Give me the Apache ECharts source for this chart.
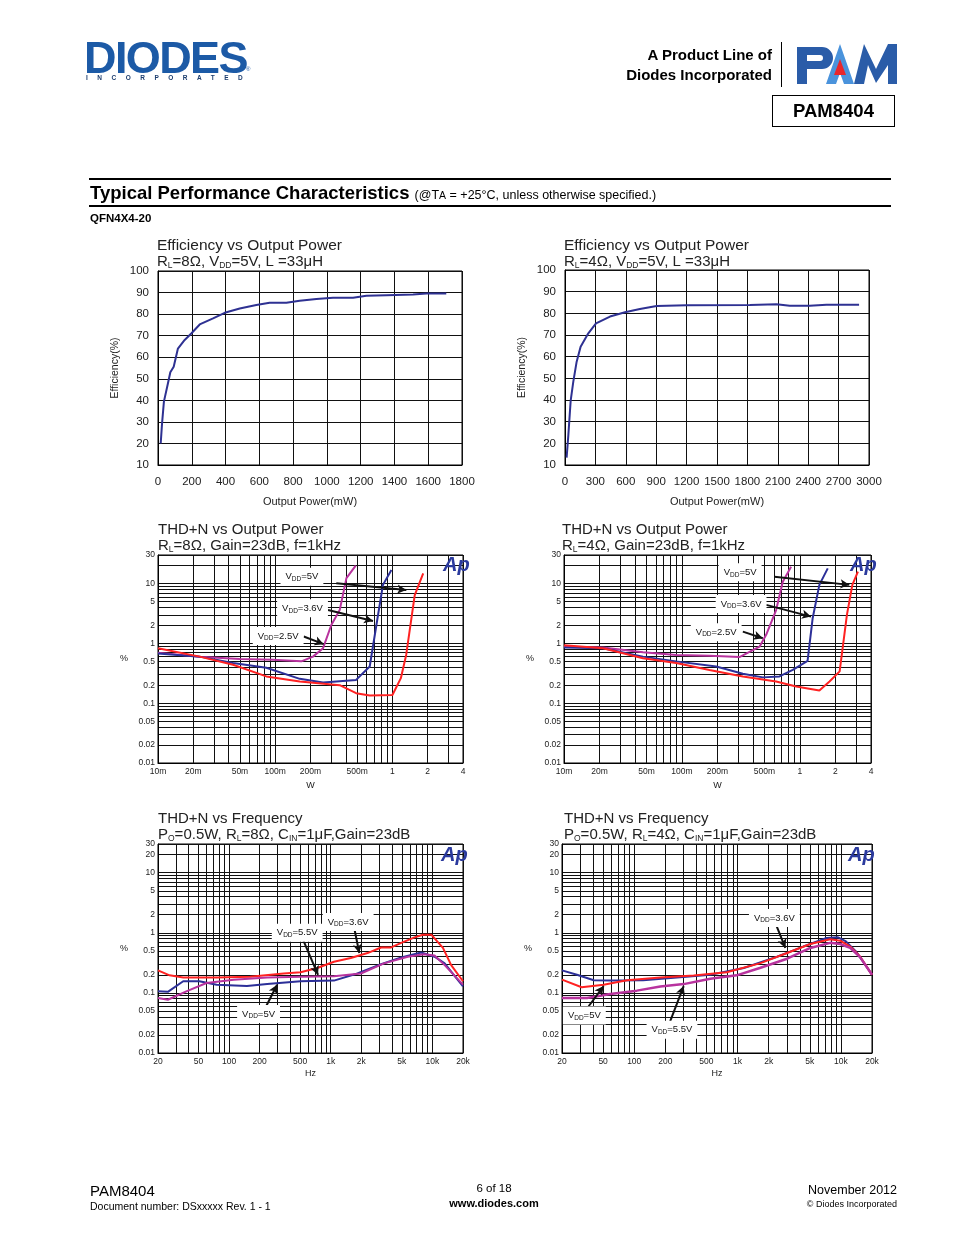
<!DOCTYPE html>
<html>
<head>
<meta charset="utf-8">
<script src="https://cdn.jsdelivr.net/npm/echarts@6/dist/echarts.min.js"></script>
<style>
  body { margin: 0; background: #fff; font-family: "Liberation Sans", Arial, sans-serif; color: #000; }
  #page { position: relative; width: 954px; height: 1235px; overflow: hidden; }
  #chart { position: absolute; left: 0; top: 0; width: 954px; height: 1235px; z-index: 0; }
  .abs { position: absolute; white-space: nowrap; z-index: 1; line-height: 1; }
</style>
</head>
<body>
<div id="page">
  <!-- header -->
  <div class="abs" style="left:84px;top:35px;font-size:45px;font-weight:bold;color:#1c5aa6;letter-spacing:-1.6px;">DIODES</div>
  <div class="abs" style="left:246px;top:66px;font-size:6px;color:#1c5aa6;">®</div>
  <div class="abs" style="left:86px;top:75px;font-size:6.5px;font-weight:bold;color:#1c3d6e;letter-spacing:9.5px;">INCORPORATED</div>
  <div class="abs" style="right:182px;top:47px;font-size:15px;font-weight:bold;">A Product Line of</div>
  <div class="abs" style="right:182px;top:67px;font-size:15px;font-weight:bold;">Diodes Incorporated</div>
  <div class="abs" style="left:781px;top:42px;width:1px;height:45px;background:#000;"></div>
  <svg class="abs" style="left:796px;top:43px;" width="102" height="42" viewBox="0 0 102 42">
    <path fill="#2a5ca8" fill-rule="evenodd" d="M1 4 H26 A11 11 0 0 1 26 26 H11 V41 H1 Z M11 12 H24 A3 3 0 0 1 24 18 H11 Z"/>
    <polygon fill="#4a93dc" points="30,41 44,1 58,41 48,41 44,30 40,41"/>
    <polygon fill="#e8262c" points="38,32 44,16 50,32"/>
    <polygon fill="#2a5ca8" points="58,41 68,1 80,26 92,1 101,1 101,41 92,41 92,22 80,40 72,22 68,41"/>
  </svg>
  <div class="abs" style="left:772px;top:95px;width:121px;height:30px;border:1.5px solid #000;font-size:18.5px;font-weight:bold;text-align:center;line-height:30px;">PAM8404</div>

  <div class="abs" style="left:89px;top:178px;width:802px;height:2px;background:#000;"></div>
  <div class="abs" style="left:90px;top:184px;font-size:18.5px;font-weight:bold;">Typical Performance Characteristics <span style="font-size:12.5px;font-weight:normal;">(@T<span style="font-size:10.5px;">A</span> = +25°C, unless otherwise specified.)</span></div>
  <div class="abs" style="left:89px;top:205px;width:802px;height:2px;background:#000;"></div>
  <div class="abs" style="left:90px;top:213px;font-size:11.5px;font-weight:bold;">QFN4X4-20</div>

  <!-- footer -->
  <div class="abs" style="left:90px;top:1183px;font-size:15px;">PAM8404</div>
  <div class="abs" style="left:90px;top:1201px;font-size:10.5px;">Document number: DSxxxxx Rev. 1 - 1</div>
  <div class="abs" style="left:394px;width:200px;text-align:center;top:1183px;font-size:11.5px;">6 of 18</div>
  <div class="abs" style="left:394px;width:200px;text-align:center;top:1198px;font-size:11px;font-weight:bold;">www.diodes.com</div>
  <div class="abs" style="right:57px;top:1184px;font-size:12.5px;">November 2012</div>
  <div class="abs" style="right:57px;top:1200px;font-size:9px;">© Diodes Incorporated</div>

  <div id="chart"></div>
</div>
<script>
// ---------------- DATA ----------------
// Efficiency vs Output Power, RL=8ohm
const eff8Power = [16, 24, 35, 59, 73, 93, 118, 158, 197, 247, 326, 395, 484, 582, 661, 760, 839, 938, 1036, 1155, 1234, 1352, 1510, 1589, 1707];
const eff8Eff   = [20, 29.3, 39.4, 47.9, 53, 55.6, 64, 68, 71, 75.2, 78, 80.6, 82.6, 84.2, 85.3, 85.3, 86.2, 87, 87.6, 87.6, 88.5, 88.8, 89.1, 89.6, 89.6];
// Efficiency vs Output Power, RL=4ohm
const eff4Power = [16, 33, 56, 82, 115, 154, 230, 306, 444, 592, 739, 904, 1200, 1824, 2087, 2218, 2415, 2580, 2902];
const eff4Eff   = [13.4, 23.8, 39.7, 48.5, 57.7, 64.6, 70.8, 75.4, 78.5, 80.5, 82, 83.4, 83.7, 83.8, 84.2, 83.5, 83.5, 84, 84];

// THD+N vs Output Power, RL=8ohm (W, %)
const thd8P_25V_W = [0.01, 0.0227, 0.0497, 0.0958, 0.167, 0.21, 0.256, 0.301, 0.355, 0.405, 0.486];
const thd8P_25V   = [0.70, 0.60, 0.55, 0.53, 0.50, 0.60, 0.83, 2.03, 3.6, 12.3, 19.9];
const thd8P_36V_W = [0.01, 0.0227, 0.0437, 0.084, 0.162, 0.256, 0.49, 0.64, 0.73, 0.83, 0.98];
const thd8P_36V   = [0.68, 0.60, 0.47, 0.39, 0.255, 0.222, 0.245, 0.41, 2.03, 9.5, 16.9];
const thd8P_5V_W  = [0.01, 0.0227, 0.0437, 0.084, 0.162, 0.355, 0.49, 0.64, 1.0, 1.18, 1.31, 1.55, 1.83];
const thd8P_5V    = [0.83, 0.60, 0.44, 0.28, 0.23, 0.20, 0.147, 0.134, 0.137, 0.262, 0.64, 6.4, 14.8];

// THD+N vs Output Power, RL=4ohm
const thd4P_25V_W = [0.01, 0.0214, 0.0467, 0.0893, 0.171, 0.307, 0.454, 0.517, 0.628, 0.715, 0.841];
const thd4P_25V   = [0.88, 0.85, 0.71, 0.64, 0.62, 0.59, 0.88, 1.39, 3.6, 10.7, 19.1];
const thd4P_36V_W = [0.01, 0.0214, 0.0467, 0.0893, 0.195, 0.328, 0.484, 0.67, 0.869, 1.16, 1.28, 1.46, 1.72];
const thd4P_36V   = [0.85, 0.83, 0.60, 0.50, 0.41, 0.31, 0.27, 0.28, 0.36, 0.51, 2.6, 9.5, 17.9];
const thd4P_5V_W  = [0.01, 0.0214, 0.0467, 0.0893, 0.171, 0.328, 0.628, 0.93, 1.46, 1.78, 2.17, 2.5, 2.78, 3.1];
const thd4P_5V    = [0.93, 0.83, 0.565, 0.47, 0.36, 0.28, 0.23, 0.19, 0.163, 0.23, 0.34, 3.0, 9.5, 15.8];

// THD+N vs Frequency, RL=8ohm (Hz, %)
const thd8F_36V_Hz = [20, 26, 35.4, 75.5, 161, 345, 505, 738, 1075, 1575, 2300, 3130, 3930, 4940, 6680, 8070, 9750, 12700, 15300, 20000];
const thd8F_36V    = [0.237, 0.196, 0.18, 0.18, 0.185, 0.21, 0.22, 0.26, 0.33, 0.38, 0.46, 0.57, 0.57, 0.68, 0.84, 0.93, 0.93, 0.56, 0.29, 0.156];
const thd8F_5V_Hz  = [20, 25, 35.4, 51, 75.5, 150, 237, 505, 1075, 1830, 3130, 4940, 7740, 10500, 13200, 16600, 20000];
const thd8F_5V     = [0.106, 0.104, 0.156, 0.156, 0.137, 0.13, 0.14, 0.156, 0.16, 0.21, 0.30, 0.39, 0.47, 0.40, 0.31, 0.19, 0.128];
const thd8F_55V_Hz = [20, 25, 38, 60, 111, 237, 505, 1075, 1980, 3340, 5730, 8230, 10500, 13200, 20000];
const thd8F_55V    = [0.082, 0.077, 0.106, 0.146, 0.166, 0.18, 0.185, 0.19, 0.21, 0.31, 0.40, 0.44, 0.42, 0.29, 0.137];

// THD+N vs Frequency, RL=4ohm
const thd4F_36V_Hz = [20, 27.9, 40.6, 58.6, 122, 259, 545, 1150, 2410, 4330, 7270, 9380, 11200, 14000, 20000];
const thd4F_36V    = [0.237, 0.2, 0.162, 0.16, 0.162, 0.18, 0.2, 0.26, 0.40, 0.59, 0.82, 0.84, 0.72, 0.49, 0.2];
const thd4F_5V_Hz  = [20, 31, 50.6, 85, 179, 376, 786, 1640, 3015, 5060, 7870, 9830, 12300, 15400, 20000];
const thd4F_5V     = [0.166, 0.124, 0.137, 0.162, 0.18, 0.194, 0.22, 0.31, 0.46, 0.65, 0.78, 0.74, 0.59, 0.40, 0.2];
const thd4F_55V_Hz = [20, 34.9, 58.6, 106, 179, 301, 545, 980, 1640, 3015, 5060, 7870, 9830, 12300, 15400, 20000];
const thd4F_55V    = [0.082, 0.082, 0.096, 0.109, 0.128, 0.14, 0.172, 0.196, 0.26, 0.37, 0.56, 0.68, 0.65, 0.56, 0.39, 0.2];

// Tick labels
const powerTickVals = [0.01, 0.02, 0.05, 0.1, 0.2, 0.5, 1, 2, 4];
const powerTickLabs = ['10m', '20m', '50m', '100m', '200m', '500m', '1', '2', '4'];
const freqTickVals  = [20, 50, 100, 200, 500, 1000, 2000, 5000, 10000, 20000];
const freqTickLabs  = ['20', '50', '100', '200', '500', '1k', '2k', '5k', '10k', '20k'];
const thdTickValsA  = [0.01, 0.02, 0.05, 0.1, 0.2, 0.5, 1, 2, 5, 10, 30];
const thdTickLabsA  = ['0.01', '0.02', '0.05', '0.1', '0.2', '0.5', '1', '2', '5', '10', '30'];
const thdTickValsB  = [0.01, 0.02, 0.05, 0.1, 0.2, 0.5, 1, 2, 5, 10, 20, 30];
const thdTickLabsB  = ['0.01', '0.02', '0.05', '0.1', '0.2', '0.5', '1', '2', '5', '10', '20', '30'];

// Annotations: [label VDD, text centre, arrow start, arrow end]
const notes3 = [['5V', [0.169, 13.0], [0.332, 10.1], [1.315, 7.8]],
                ['3.6V', [0.171, 3.86], [0.282, 3.6], [0.683, 2.37]],
                ['2.5V', [0.106, 1.33], [0.175, 1.3], [0.259, 0.97]]];
const notes4 = [['5V', [0.311, 15.4], [0.608, 13], [2.62, 9.5]],
                ['3.6V', [0.317, 4.55], [0.517, 4.4], [1.24, 2.8]],
                ['2.5V', [0.195, 1.54], [0.328, 1.57], [0.484, 1.22]]];
const notes5 = [['3.6V', [1485, 1.51], [1702, 1.2], [1910, 0.46]],
                ['5.5V', [468, 1.0], [525, 0.82], [750, 0.2]],
                ['5V', [195, 0.0445], [227, 0.056], [297, 0.137]]];
const notes6 = [['3.6V', [2270, 1.76], [2320, 1.46], [2900, 0.56]],
                ['5V', [32.9, 0.042], [36.2, 0.06], [50.6, 0.13]],
                ['5.5V', [232, 0.0244], [223, 0.034], [301, 0.13]]];

// ---------------- HELPERS ----------------
const FONT = '"Liberation Sans", Arial, sans-serif';
const RED = '#ff2222', BLUE = '#2c2f98', MAG = '#b8339e', NAVY = '#2e3192';
function zip(xs, ys) { return xs.map((x, i) => [x, ys[i]]); }
function fmtFrom(vals, labs) {
  return function (v) {
    for (let i = 0; i < vals.length; i++) if (Math.abs(v - vals[i]) <= Math.abs(vals[i]) * 1e-6) return labs[i];
    return '';
  };
}
function logGridValues(lo, hi) {
  const out = [];
  for (let e = -3; e <= 5; e++) for (let m = 1; m <= 9; m++) {
    const v = +(m * Math.pow(10, e)).toPrecision(6);
    if (v >= lo * 0.9999 && v <= hi * 1.0001) out.push(v);
  }
  return out;
}

const grids = [
  { left: 158, top: 271, width: 304, height: 194 },
  { left: 565, top: 270, width: 304, height: 195 },
  { left: 158, top: 555, width: 305, height: 208 },
  { left: 564, top: 555, width: 307, height: 208 },
  { left: 158, top: 844, width: 305, height: 209 },
  { left: 562, top: 844, width: 310, height: 209 }
].map(g => Object.assign({ show: true, borderColor: '#000', borderWidth: 1, backgroundColor: 'transparent', outerBoundsMode: 'none', containLabel: false }, g));

const lineStyleGrid = { color: '#111', width: 1 };

function effX(gi, max, interval) {
  return { type: 'value', gridIndex: gi, min: 0, max: max, interval: interval,
    axisLine: { show: true, onZero: false, lineStyle: { color: '#000' } }, axisTick: { show: false },
    splitLine: { show: true, lineStyle: lineStyleGrid },
    axisLabel: { fontSize: 11.5, color: '#222', margin: 11, fontFamily: FONT, formatter: v => String(v) },
    name: 'Output Power(mW)', nameLocation: 'middle', nameGap: 31, nameTextStyle: { fontSize: 11, color: '#222', fontFamily: FONT } };
}
function effY(gi) {
  return { type: 'value', gridIndex: gi, min: 10, max: 100, interval: 10,
    axisLine: { show: true, lineStyle: { color: '#000' } }, axisTick: { show: false },
    splitLine: { show: true, lineStyle: lineStyleGrid },
    axisLabel: { fontSize: 11.5, color: '#222', margin: 9, fontFamily: FONT, formatter: v => String(v) },
    name: 'Efficiency(%)', nameLocation: 'middle', nameGap: 37, nameTextStyle: { fontSize: 10.5, color: '#222', fontFamily: FONT } };
}
function logX(gi, min, max, vals, labs, name, gap) {
  return { type: 'log', logBase: 10, gridIndex: gi, min: min, max: max,
    axisLine: { show: true, lineStyle: { color: '#000' } },
    axisTick: { show: false, customValues: logGridValues(min, max) },
    splitLine: { show: true, lineStyle: lineStyleGrid }, minorSplitLine: { show: false },
    axisLabel: { customValues: vals, formatter: fmtFrom(vals, labs), fontSize: 8.5, color: '#222', margin: 4, fontFamily: FONT },
    name: name, nameLocation: 'middle', nameGap: gap, nameTextStyle: { fontSize: 9, color: '#222', fontFamily: FONT } };
}
function logY(gi, vals, labs) {
  return { type: 'log', logBase: 10, gridIndex: gi, min: 0.01, max: 30,
    axisLine: { show: true, lineStyle: { color: '#000' } },
    axisTick: { show: false, customValues: logGridValues(0.01, 30) },
    splitLine: { show: true, lineStyle: lineStyleGrid }, minorSplitLine: { show: false },
    axisLabel: { customValues: vals, formatter: fmtFrom(vals, labs), fontSize: 8.5, color: '#222', margin: 3, fontFamily: FONT },
    name: '%', nameLocation: 'middle', nameRotate: 0, nameGap: 30, nameTextStyle: { fontSize: 9, color: '#222', fontFamily: FONT } };
}
function line(gi, xs, ys, color, width) {
  return { type: 'line', xAxisIndex: gi, yAxisIndex: gi, data: zip(xs, ys), showSymbol: false, symbol: 'none',
    smooth: false, lineStyle: { color: color, width: width || 2 }, itemStyle: { color: color }, z: 3, silent: true };
}
const noteRich = {
  n: { fontSize: 9.5, color: '#111', fontFamily: FONT, lineHeight: 12 },
  s: { fontSize: 6.5, color: '#111', fontFamily: FONT, lineHeight: 7, padding: [5, 0, 0, 0] }
};
function addNotes(series, notes) {
  series.markPoint = {
    silent: true, symbol: 'rect', symbolSize: 1, itemStyle: { color: 'transparent' },
    label: { show: true, position: 'inside', backgroundColor: '#fff', padding: [3, 5], rich: noteRich },
    data: notes.map(n => ({ coord: n[1], label: { formatter: '{n|V}{s|DD}{n|=' + n[0] + '}' } }))
  };
  series.markLine = {
    silent: true, symbol: ['none', 'arrow'], symbolSize: [7, 9], animation: false,
    lineStyle: { color: '#111', width: 2, type: 'solid' }, label: { show: false },
    data: notes.map(n => [{ coord: n[2] }, { coord: n[3] }])
  };
  return series;
}

// ---------------- TITLES ----------------
const tRich = {
  n: { fontSize: 15, color: '#222', fontFamily: FONT, lineHeight: 17 },
  s: { fontSize: 8.5, color: '#222', fontFamily: FONT, lineHeight: 8, padding: [8, 0, 0, 0] }
};
const tRichBig = {
  n: { fontSize: 15.5, color: '#222', fontFamily: FONT, lineHeight: 17 }
};
function ttl(text, left, top, big) {
  return { text: text, left: left, top: top, padding: 0, textStyle: { fontSize: 15, fontWeight: 'normal', color: '#222', fontFamily: FONT, rich: big ? tRichBig : tRich } };
}
function ap(left, top) {
  return { text: 'Ap', left: left, top: top, padding: 0, textStyle: { fontSize: 20, fontWeight: 'bold', fontStyle: 'italic', color: '#2b3a9e', fontFamily: FONT } };
}
const titles = [
  ttl('{n|Efficiency vs Output Power}', 157, 237, true),
  ttl('{n|R}{s|L}{n|=8Ω, V}{s|DD}{n|=5V, L =33μH}', 157, 253),
  ttl('{n|Efficiency vs Output Power}', 564, 237, true),
  ttl('{n|R}{s|L}{n|=4Ω, V}{s|DD}{n|=5V, L =33μH}', 564, 253),
  ttl('{n|THD+N vs Output Power}', 158, 521),
  ttl('{n|R}{s|L}{n|=8Ω, Gain=23dB, f=1kHz}', 158, 537),
  ttl('{n|THD+N vs Output Power}', 562, 521),
  ttl('{n|R}{s|L}{n|=4Ω, Gain=23dB, f=1kHz}', 562, 537),
  ttl('{n|THD+N vs Frequency}', 158, 810),
  ttl('{n|P}{s|O}{n|=0.5W, R}{s|L}{n|=8Ω, C}{s|IN}{n|=1μF,Gain=23dB}', 158, 826),
  ttl('{n|THD+N vs Frequency}', 564, 810),
  ttl('{n|P}{s|O}{n|=0.5W, R}{s|L}{n|=4Ω, C}{s|IN}{n|=1μF,Gain=23dB}', 564, 826),
  ap(443, 555), ap(850, 555), ap(441, 845), ap(848, 845)
];

// ---------------- OPTION ----------------
const option = {
  animation: false,
  backgroundColor: 'transparent',
  title: titles,
  grid: grids,
  xAxis: [
    effX(0, 1800, 200),
    effX(1, 3000, 300),
    logX(2, 0.01, 4, powerTickVals, powerTickLabs, 'W', 18),
    logX(3, 0.01, 4, powerTickVals, powerTickLabs, 'W', 18),
    logX(4, 20, 20000, freqTickVals, freqTickLabs, 'Hz', 16),
    logX(5, 20, 20000, freqTickVals, freqTickLabs, 'Hz', 16)
  ],
  yAxis: [
    effY(0), effY(1),
    logY(2, thdTickValsA, thdTickLabsA),
    logY(3, thdTickValsA, thdTickLabsA),
    logY(4, thdTickValsB, thdTickLabsB),
    logY(5, thdTickValsB, thdTickLabsB)
  ],
  series: [
    line(0, eff8Power, eff8Eff, NAVY, 2),
    line(1, eff4Power, eff4Eff, NAVY, 2),

    addNotes(line(2, thd8P_25V_W, thd8P_25V, MAG, 2), notes3),
    line(2, thd8P_36V_W, thd8P_36V, BLUE, 2),
    line(2, thd8P_5V_W, thd8P_5V, RED, 2),

    addNotes(line(3, thd4P_25V_W, thd4P_25V, MAG, 2), notes4),
    line(3, thd4P_36V_W, thd4P_36V, BLUE, 2),
    line(3, thd4P_5V_W, thd4P_5V, RED, 2),

    addNotes(line(4, thd8F_36V_Hz, thd8F_36V, RED, 2), notes5),
    line(4, thd8F_5V_Hz, thd8F_5V, BLUE, 2),
    line(4, thd8F_55V_Hz, thd8F_55V, MAG, 2),

    addNotes(line(5, thd4F_36V_Hz, thd4F_36V, BLUE, 2), notes6),
    line(5, thd4F_5V_Hz, thd4F_5V, RED, 2),
    line(5, thd4F_55V_Hz, thd4F_55V, MAG, 2.5)
  ]
};

const chart = echarts.init(document.getElementById('chart'), null, { renderer: 'canvas' });
chart.setOption(option);
</script>
</body>
</html>
